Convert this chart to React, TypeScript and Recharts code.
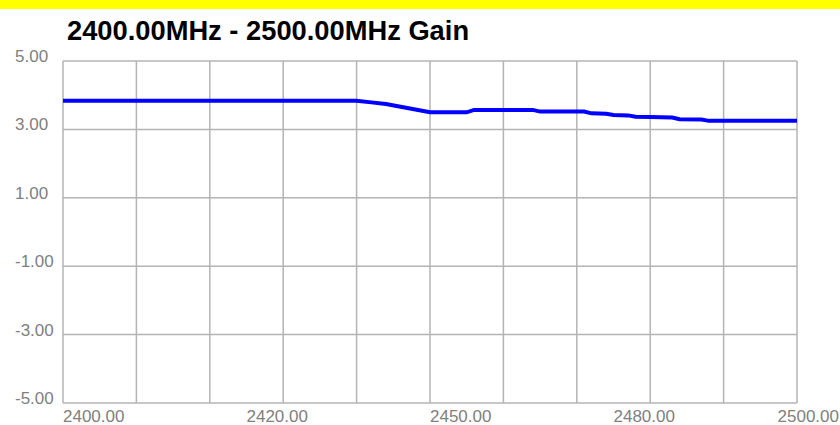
import { LineChart, Line, XAxis, YAxis, CartesianGrid } from 'recharts';

// frequency (MHz) and gain (dB)
const freqs = [
  2400, 2440, 2442, 2444, 2446, 2448, 2450, 2455, 2456, 2464, 2465, 2471,
  2472, 2474, 2475, 2477, 2478, 2480, 2483, 2484, 2487, 2488, 2500,
];
const gains = [
  3.84, 3.84, 3.79, 3.74, 3.66, 3.58, 3.5, 3.5, 3.57, 3.57, 3.52, 3.52,
  3.47, 3.46, 3.42, 3.41, 3.37, 3.36, 3.35, 3.3, 3.29, 3.25, 3.25,
];

const gridFreqs = [2400, 2410, 2420, 2430, 2440, 2450, 2460, 2470, 2480, 2490, 2500];
const labelFreqs = [2400, 2425, 2450, 2475, 2500];
const labelTexts = ['2400.00', '2420.00', '2450.00', '2480.00', '2500.00'];
const gainTicks = [-5, -3, -1, 1, 3, 5];

const title = '2400.00MHz - 2500.00MHz Gain';
const FONT = "Arial, 'Liberation Sans', sans-serif";

const data = freqs.map((f, i) => ({ freq: f, gain: gains[i] }));

function NoTick() {
  return <g />;
}

function XLabel(props: any) {
  const { x, y, index } = props;
  const last = index === labelFreqs.length - 1;
  return (
    <text
      x={last ? 839 : x}
      y={y + 19}
      textAnchor={last ? 'end' : 'start'}
      fill="#808080"
      fontSize={17}
      fontFamily={FONT}
    >
      {labelTexts[index]}
    </text>
  );
}

function YLabel(props: any) {
  const { y, payload } = props;
  return (
    <text x={15} y={y + 1} textAnchor="start" fill="#808080" fontSize={17} fontFamily={FONT}>
      {Number(payload.value).toFixed(2)}
    </text>
  );
}

export default function App() {
  return (
    <div style={{ position: 'relative', width: 840, height: 425, background: '#fff', overflow: 'hidden' }}>
      <style>{'body{margin:0}'}</style>
      <div style={{ position: 'absolute', left: 0, top: 0, width: 840, height: 9, background: '#ffff00' }} />
      <div
        style={{
          position: 'absolute',
          left: 67,
          top: 16.5,
          fontFamily: FONT,
          fontWeight: 'bold',
          fontSize: 27.3,
          lineHeight: 1,
          color: '#000',
          whiteSpace: 'nowrap',
        }}
      >
        {title}
      </div>
      <LineChart width={840} height={425} data={data} margin={{ top: 61, right: 43, left: 0, bottom: 0 }}>
        <CartesianGrid xAxisId="grid" stroke="#b4b4b4" strokeWidth={1.5} />
        <XAxis
          xAxisId="grid"
          orientation="top"
          dataKey="freq"
          type="number"
          domain={[2400, 2500]}
          ticks={gridFreqs}
          interval={0}
          height={0}
          tick={<NoTick />}
          axisLine={false}
          tickLine={false}
        />
        <XAxis
          xAxisId="label"
          dataKey="freq"
          type="number"
          domain={[2400, 2500]}
          ticks={labelFreqs}
          interval={0}
          height={22}
          tick={<XLabel />}
          tickSize={0}
          tickMargin={0}
          axisLine={false}
          tickLine={false}
        />
        <YAxis
          type="number"
          domain={[-5, 5]}
          ticks={gainTicks}
          interval={0}
          width={63}
          tick={<YLabel />}
          tickSize={0}
          tickMargin={0}
          axisLine={false}
          tickLine={false}
        />
        <Line
          xAxisId="grid"
          dataKey="gain"
          type="linear"
          stroke="#0000ff"
          strokeWidth={4}
          dot={false}
          isAnimationActive={false}
        />
      </LineChart>
    </div>
  );
}
